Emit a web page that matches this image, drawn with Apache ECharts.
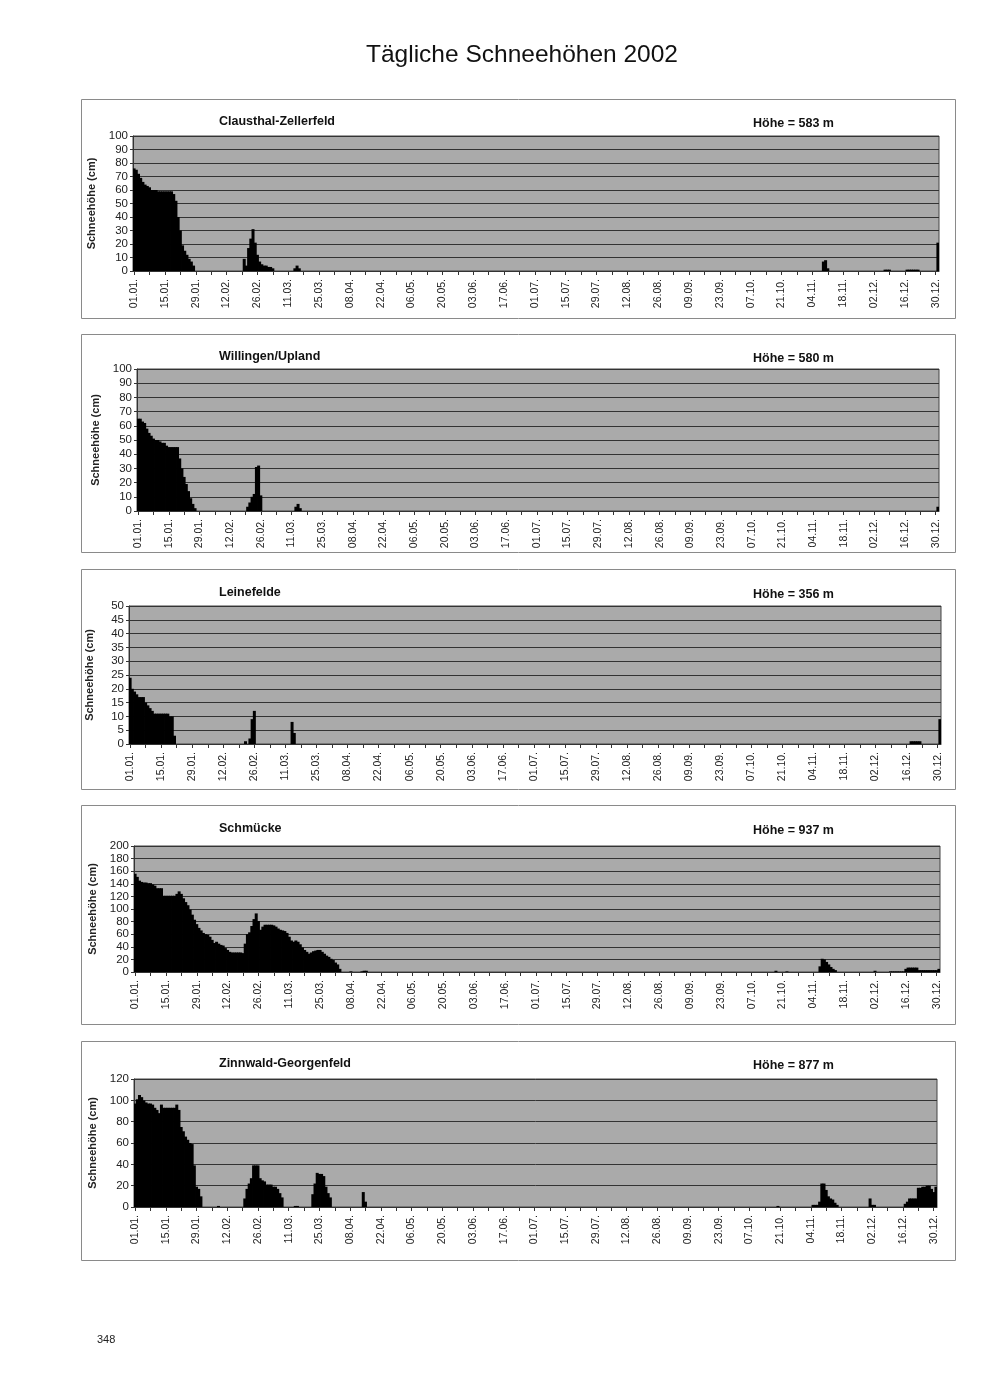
<!DOCTYPE html>
<html>
<head>
<meta charset="utf-8">
<script src="https://cdn.jsdelivr.net/npm/echarts@6/dist/echarts.min.js"></script>
<style>
html,body{margin:0;padding:0;background:#fff;}
#c{width:1000px;height:1382px;}
</style>
</head>
<body>
<div id="c"></div>
<script>
// ---- category labels (the source table contains a "29.02." row) ----
const monthDays = [31, 29, 31, 30, 31, 30, 31, 31, 30, 31, 30, 31];
const dates = [];
monthDays.forEach(function (n, m) {
  for (let d = 1; d <= n; d++) {
    dates.push(String(d).padStart(2, '0') + '.' + String(m + 1).padStart(2, '0') + '.');
  }
});

// ---- snow depth readings: [start day index, consecutive daily values]; other days 0 ----
const clausthal = [
  [0, [76,75,72,69,66,64,63,62,60,60,60,59,59,59,59,59,59,59,57,52,40,30,19,15,12,9,7,4]],
  [50, [9,4,17,24,31,21,12,7,5,4,4,3,3,2]],
  [73, [2,4,2]],
  [313, [7,8,2]],
  [341, [1,1,1]],
  [351, [1,1,1,1,1,1]],
  [365, [21]]
];
const willingen = [
  [0, [65,65,63,62,58,55,53,51,50,50,49,48,48,46,45,45,45,45,45,37,30,24,19,14,9,5,2]],
  [50, [3,6,10,12,31,32,11]],
  [72, [3,5,2]],
  [365, [3]]
];
const leinefelde = [
  [0, [24,20,19,18,17,17,17,15,14,13,12,11,11,11,11,11,11,11,10,10,3]],
  [52, [1,0,2,9,12]],
  [73, [8,4]],
  [352, [1,1,1,1,1]],
  [365, [9]]
];
const schmuecke = [
  [0, [156,151,145,143,142,142,141,141,139,137,
       133,133,133,121,121,121,121,121,121,124,
       128,124,117,111,106,99,91,83,76,70,
       66,62,60,59,56,51,46,48,45,43,
       42,38,35,32,31,31,31,31,31,30,
       45,60,63,73,84,93,81,67,72,75,
       75,75,75,74,72,69,67,66,65,62,
       56,50,48,50,48,44,39,35,32,29,
       31,33,34,35,35,32,29,26,24,21,
       19,15,12,5]],
  [98, [1]],
  [103, [1,2,2]],
  [291, [2]],
  [296, [1]],
  [311, [9,21,20,16,12,8,5,3]],
  [336, [2]],
  [343, [1,1,1,1,1,1,1]],
  [350, [5,7,7,7,7,7]],
  [356, [3,3,3,3,3,3,3,3,3]],
  [365, [5]]
];
const zinnwald = [
  [0, [97,101,105,103,100,98,97,97,96,93,
       91,88,96,93,93,93,93,93,93,96,
       91,75,71,66,63,60,59,39,19,17,10]],
  [38, [1]],
  [50, [8,17,22,27,39,39,39,27,25,24,21,21,21,19,19,17,13,9]],
  [73, [1,1]],
  [81, [12,22,32,31,31,29,19,13,9]],
  [104, [14,5]],
  [293, [1]],
  [309, [2,2,2,5,22,22,16,10,8,7,4,2]],
  [335, [8,2,2]],
  [351, [3,5,8,8,8,8,18,18,19,19,20,20,17,14,19]]
];

const stationNames = ['Clausthal-Zellerfeld', 'Willingen/Upland', 'Leinefelde', 'Schmücke', 'Zinnwald-Georgenfeld'];
const heights = ['Höhe = 583 m', 'Höhe = 580 m', 'Höhe = 356 m', 'Höhe = 937 m', 'Höhe = 877 m'];
const yMax = [100, 100, 50, 200, 120];
const yStep = [10, 10, 5, 20, 20];
const seriesSegs = [clausthal, willingen, leinefelde, schmuecke, zinnwald];

function expand(segs) {
  const a = new Array(dates.length).fill(0);
  segs.forEach(function (s) { s[1].forEach(function (v, i) { a[s[0] + i] = v; }); });
  return a;
}

// ---- layout (pixels) ----
const layout = [
  { frame: [99, 318],   grid: { left: 133, width: 806, top: 136, height: 135 },  ty: 118 },
  { frame: [334, 552],  grid: { left: 137, width: 802, top: 369, height: 142 },  ty: 353 },
  { frame: [569, 789],  grid: { left: 129, width: 812, top: 606, height: 138 },  ty: 589 },
  { frame: [805, 1024], grid: { left: 134, width: 806, top: 846, height: 126 },  ty: 825 },
  { frame: [1041, 1260],grid: { left: 134, width: 803, top: 1079, height: 128 }, ty: 1060 }
];

const FONT = '"Liberation Sans", Arial, Helvetica, sans-serif';
const grids = [], xAxes = [], yAxes = [], series = [], titles = [], graphics = [];

titles.push({
  text: 'Tägliche Schneehöhen 2002', left: 361, top: 38,
  textStyle: { fontFamily: FONT, fontSize: 24.5, fontWeight: 'normal', color: '#111' }
});

layout.forEach(function (L, i) {
  grids.push(Object.assign({
    show: true, backgroundColor: '#aaaaaa', borderColor: '#444', borderWidth: 1, containLabel: false
  }, L.grid));
  xAxes.push({
    type: 'category', gridIndex: i, data: dates, boundaryGap: true,
    axisLine: { show: true, lineStyle: { color: '#333', width: 1 } },
    axisTick: { show: true, interval: 6, alignWithLabel: true, length: 4, lineStyle: { color: '#333' } },
    axisLabel: { interval: 13, rotate: 90, fontFamily: FONT, fontSize: 10.5, color: '#222', margin: 8 },
    splitLine: { show: false }
  });
  yAxes.push({
    type: 'value', gridIndex: i, min: 0, max: yMax[i], interval: yStep[i],
    name: 'Schneehöhe (cm)', nameLocation: 'middle', nameRotate: 90, nameGap: 34,
    nameTextStyle: { fontFamily: FONT, fontSize: 11, fontWeight: 'bold', color: '#222' },
    axisLine: { show: true, lineStyle: { color: '#333' } },
    axisTick: { show: true, length: 3, lineStyle: { color: '#333' } },
    axisLabel: { fontFamily: FONT, fontSize: 11.5, color: '#222', margin: 5 },
    splitLine: { show: true, lineStyle: { color: '#333', width: 1 } }
  });
  series.push({
    type: 'bar', xAxisIndex: i, yAxisIndex: i, data: expand(seriesSegs[i]),
    barWidth: 3,
    itemStyle: { color: '#000' },
    silent: true, animation: false
  });
  titles.push({
    text: stationNames[i], left: 214, top: L.ty - 8,
    textStyle: { fontFamily: FONT, fontSize: 12.5, fontWeight: 'bold', color: '#111' }
  });
  titles.push({
    text: heights[i], left: 748, top: L.ty - 6,
    textStyle: { fontFamily: FONT, fontSize: 12.5, fontWeight: 'bold', color: '#111' }
  });
  graphics.push({
    type: 'rect', z: -1, silent: true,
    shape: { x: 81.5, y: L.frame[0] + 0.5, width: 874, height: L.frame[1] - L.frame[0] },
    style: { fill: 'none', stroke: '#8a8a8a', lineWidth: 1 }
  });
});

graphics.push({
  type: 'text', left: 97, top: 1334, silent: true,
  style: { text: '348', fontFamily: FONT, fontSize: 11, fill: '#222' }
});

const chart = echarts.init(document.getElementById('c'), null, { renderer: 'canvas' });
chart.setOption({
  animation: false,
  backgroundColor: '#ffffff',
  title: titles,
  grid: grids,
  xAxis: xAxes,
  yAxis: yAxes,
  series: series,
  graphic: graphics
});
</script>
</body>
</html>
